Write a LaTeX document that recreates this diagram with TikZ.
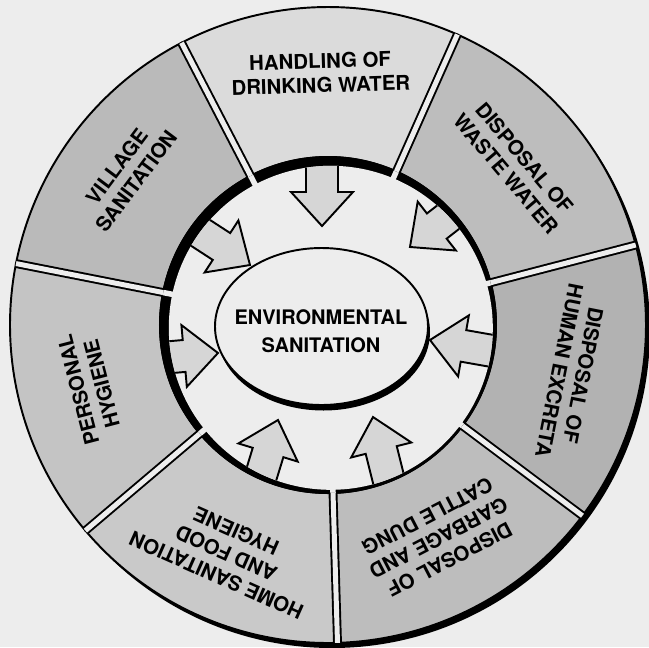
\documentclass[tikz,border=0pt]{standalone}
\usepackage{fontspec}
\setmainfont{TeX Gyre Heros}
\usetikzlibrary{calc}
\definecolor{stipple}{gray}{0.93}
\definecolor{arrowfill}{gray}{0.84}

\begin{document}
\begin{tikzpicture}[
    x=0.02cm, y=0.02cm,
    ring/.style={draw, line width=1.1pt},
    sectorlabel/.style={font=\fontsize{11.6}{13.8}\selectfont\bfseries, align=center, inner sep=0pt},
    corelabel/.style={font=\fontsize{11.4}{16}\selectfont\bfseries, align=center, inner sep=0pt},
    blockarrow/.style={draw, line width=1.1pt, fill=arrowfill, line join=miter},
]
    \useasboundingbox (-328,-322) rectangle (321,325);
    \fill[stipple] (-328,-322) rectangle (321,325);

    % shadow under the outer ring
    \fill[black] (4,-5) circle (318);

    % The seven sectors
    \foreach \i/\shade in {0/14,1/27,2/23,3/21,4/26,5/30,6/26} {
        \pgfmathsetmacro{\a}{66+\i*360/7}
        \pgfmathsetmacro{\b}{\a+360/7}
        \filldraw[ring, fill=black!\shade] (\a:168) -- (\a:318)
            arc[start angle=\a, end angle=\b, radius=318] -- (\b:168)
            arc[start angle=\b, end angle=\a, radius=168] -- cycle;
    }

    % inner disk, thick rim at the upper left
    \fill[black] (0,0) circle (169);
    \fill[stipple] (2.8,-2.8) circle (162);

    % Block arrows pointing inwards
    \begin{scope}
        \clip (2.8,-2.8) circle (162);
        \foreach \x/\y/\d in {-6/99/270, 82/78/218, 102/-15/170, 45/-92/104, -50/-95/73, -110/-28/5, -78/60/-33} {
            \draw[blockarrow, shift={(\x,\y)}, rotate=\d] (0,0) -- (-34,31) -- (-34,16)
                -- (-110,16) -- (-110,-16) -- (-34,-16) -- (-34,-31) -- cycle;
        }
    \end{scope}

    % Centre ellipse with its shadow
    \fill[black] (-4.5,-7) ellipse[x radius=106.5, y radius=78.5];
    \filldraw[fill=stipple, line width=1.1pt] (-6.5,-1.5) ellipse[x radius=106.5, y radius=78.5];
    \node[corelabel] (core) at (-7,-6) {ENVIRONMENTAL\\SANITATION};

    % gaps between the sectors
    \foreach \i in {0,...,6} {
        \pgfmathsetmacro{\a}{66+\i*360/7}
        \draw[stipple, line width=0.11cm] (\a:156) -- (\a:170);
        \draw[line width=1.1pt, double=stipple, double distance=0.1cm] (\a:168) -- (\a:318);
    }

    % Sector labels
    \foreach \i/\name/\r/\txt in {0/handling/252/{HANDLING OF\\DRINKING WATER},
                                  1/village/252/{VILLAGE\\SANITATION},
                                  2/personal/246/{PERSONAL\\HYGIENE},
                                  3/home/250/{HOME SANITATION\\AND FOOD\\HYGIENE},
                                  4/garbage/240/{DISPOSAL OF\\GARBAGE AND\\CATTLE DUNG},
                                  5/excreta/248/{DISPOSAL OF\\HUMAN EXCRETA},
                                  6/wastewater/246/{DISPOSAL OF\\WASTE WATER}} {
        \pgfmathsetmacro{\m}{66+\i*360/7+180/7}
        \node[sectorlabel, rotate=\m-90] (\name) at (\m:\r) {\txt};
    }
\end{tikzpicture}
\end{document}
